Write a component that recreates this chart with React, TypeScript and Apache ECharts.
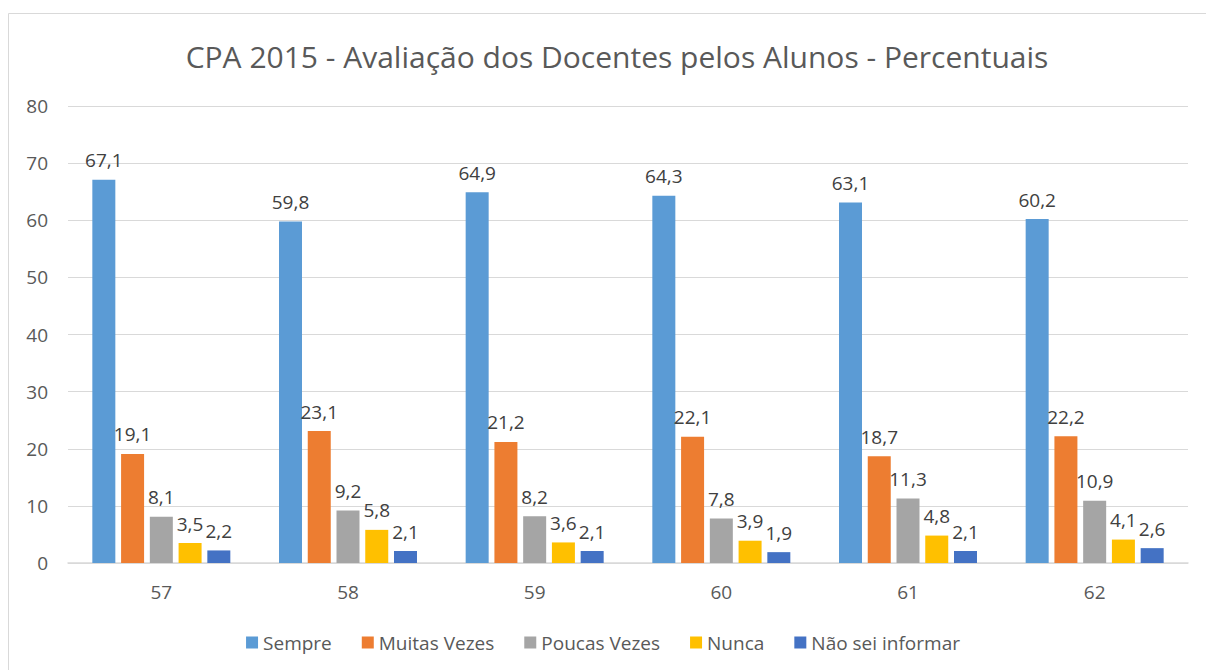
import React, { useEffect, useRef } from "react";
import * as echarts from "echarts";

const categories = ["57", "58", "59", "60", "61", "62"];
const seriesNames = ["Sempre", "Muitas Vezes", "Poucas Vezes", "Nunca", "Não sei informar"];
const sempre = [67.1, 59.8, 64.9, 64.3, 63.1, 60.2];
const muitasVezes = [19.1, 23.1, 21.2, 22.1, 18.7, 22.2];
const poucasVezes = [8.1, 9.2, 8.2, 7.8, 11.3, 10.9];
const nunca = [3.5, 5.8, 3.6, 3.9, 4.8, 4.1];
const naoSei = [2.2, 2.1, 2.1, 1.9, 2.1, 2.6];
const colors = ["#5B9BD5", "#ED7D31", "#A5A5A5", "#FFC000", "#4472C4"];
const FONT = "'Open Sans', 'Noto Sans', sans-serif";

export default function App() {
  const ref = useRef<HTMLDivElement>(null);
  useEffect(() => {
    if (!ref.current) return;
    const chart = echarts.init(ref.current, null, { renderer: "svg" });
    const values = [sempre, muitasVezes, poucasVezes, nunca, naoSei];
    chart.setOption({
      animation: false,
      textStyle: { fontFamily: FONT },
      title: {
        text: "CPA 2015 - Avaliação dos Docentes pelos Alunos - Percentuais",
        left: 612,
        textAlign: "center",
        top: 36,
        textStyle: { fontFamily: FONT, fontSize: 30, fontWeight: "normal", color: "#595959" },
      },
      graphic: [
        {
          type: "rect",
          shape: { x: 8.5, y: 13.5, width: 1220, height: 700 },
          style: { fill: "none", stroke: "#D9D9D9", lineWidth: 1 },
          silent: true,
        },
      ],
      legend: {
        bottom: 13,
        left: "center",
        itemWidth: 12,
        itemHeight: 12,
        itemGap: 30,
        icon: "rect",
        textStyle: { fontFamily: FONT, fontSize: 19, color: "#595959" },
        data: seriesNames,
      },
      grid: { left: 68, right: 18, top: 106, bottom: 107, containLabel: false },
      xAxis: {
        type: "category",
        data: categories,
        axisTick: { show: false },
        axisLine: { lineStyle: { color: "#D9D9D9", width: 1.5 } },
        axisLabel: { fontFamily: FONT, fontSize: 19, color: "#595959", margin: 19 },
      },
      yAxis: {
        type: "value",
        min: 0,
        max: 80,
        interval: 10,
        axisLine: { show: false },
        axisTick: { show: false },
        splitLine: { lineStyle: { color: "#D9D9D9", width: 1 } },
        axisLabel: { fontFamily: FONT, fontSize: 19, color: "#595959", margin: 20 },
      },
      series: seriesNames.map((name, i) => ({
        name,
        type: "bar",
        data: values[i],
        barWidth: 23,
        barGap: "25%",
        itemStyle: { color: colors[i] },
        label: {
          show: true,
          position: "top",
          distance: 10,
          fontFamily: FONT,
          fontSize: 19,
          color: "#404040",
          formatter: (p: any) => String(p.value).replace(".", ","),
        },
      })),
    });
    return () => chart.dispose();
  }, []);
  return (
    <div
      ref={ref}
      style={{ position: "fixed", left: 0, top: 0, width: 1206, height: 670, background: "#fff" }}
    />
  );
}
